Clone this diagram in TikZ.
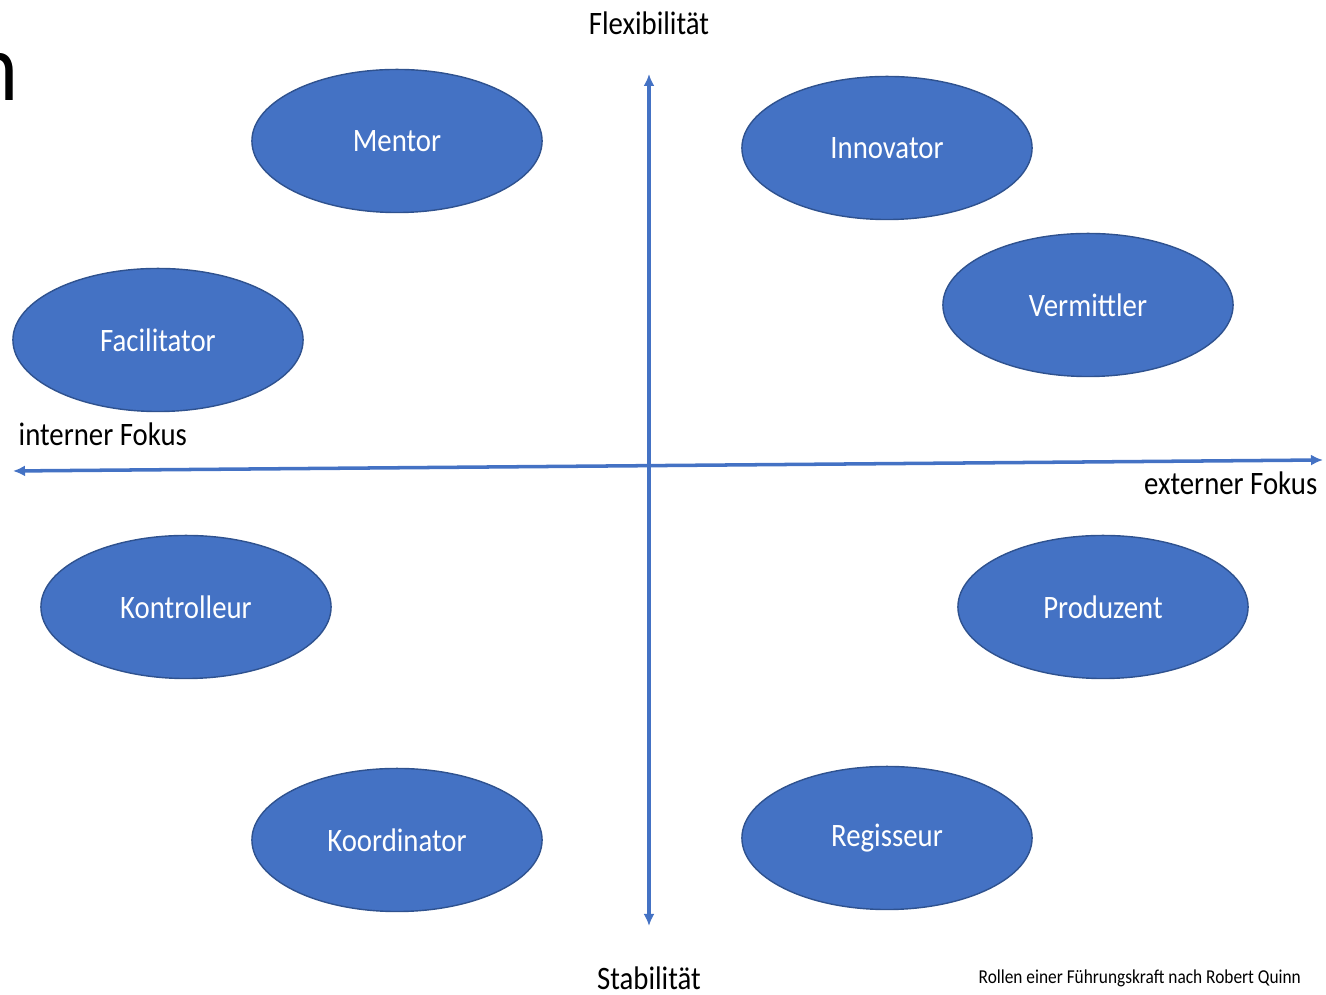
\documentclass[tikz,border=0pt]{standalone}
\usepackage{fontspec}
\usepackage{tikz}
\usetikzlibrary{shapes.geometric,arrows.meta}
\setmainfont{Carlito}[FakeStretch=0.88]
\definecolor{rolefill}{HTML}{4472C4}
\definecolor{roleline}{HTML}{2F528F}
\definecolor{axisblue}{HTML}{4472C4}

\begin{document}
\begin{tikzpicture}[
  x=0.01cm, y=-0.01cm,
  role/.style={ellipse, draw=roleline, line width=0.4pt, fill=rolefill,
               minimum width=2.9cm, minimum height=1.43cm, inner sep=0pt,
               text=white, font=\fontsize{9.3}{11}\selectfont},
  axis/.style={{Latex[length=1.2mm,width=1.1mm]}-{Latex[length=1.2mm,width=1.1mm]},
               color=axisblue, line width=1pt},
  axislabel/.style={inner sep=0pt, font=\fontsize{9.3}{11}\selectfont},
  note/.style={inner sep=0pt, font=\fontsize{5.6}{6.5}\selectfont},
]
  \useasboundingbox (0,0) rectangle (1326,995);

  % cut-off title letter at the left edge
  \begin{scope}
    \clip (0,0) rectangle (1326,995);
    \node[inner sep=0pt, anchor=base east, font=\fontsize{27.6}{30}\selectfont] (title) at (19,101) {n};
  \end{scope}

  % axes
  \coordinate (flex)  at (649,74);
  \coordinate (stab)  at (649,926);
  \coordinate (intern) at (13,471);
  \coordinate (extern) at (1323,460);
  \draw[axis] (stab) -- (flex);
  \draw[axis] (intern) -- (extern);

  \node[axislabel, anchor=base] (flexlabel) at (649,35) {Flexibilität};
  \node[axislabel, anchor=base] (stablabel) at (649,990) {Stabilität};
  \node[axislabel, anchor=base west] (internlabel) at (18,446) {interner Fokus};
  \node[axislabel, anchor=base east] (externlabel) at (1318,495) {externer Fokus};

  % the eight roles
  \node[role] (mentor)      at (397,141) {Mentor};
  \node[role] (innovator)   at (887,148) {Innovator};
  \node[role] (vermittler)  at (1088,305) {Vermittler};
  \node[role] (facilitator) at (158,340) {Facilitator};
  \node[role] (kontrolleur) at (186,607) {Kontrolleur};
  \node[role] (produzent)   at (1103,607) {Produzent};
  \node[role] (koordinator) at (397,840) {Koordinator};
  \node[role] (regisseur)   at (887,838) {Regisseur};

  \node[note, anchor=base west] (source) at (978,984) {Rollen einer Führungskraft nach Robert Quinn};
\end{tikzpicture}
\end{document}
